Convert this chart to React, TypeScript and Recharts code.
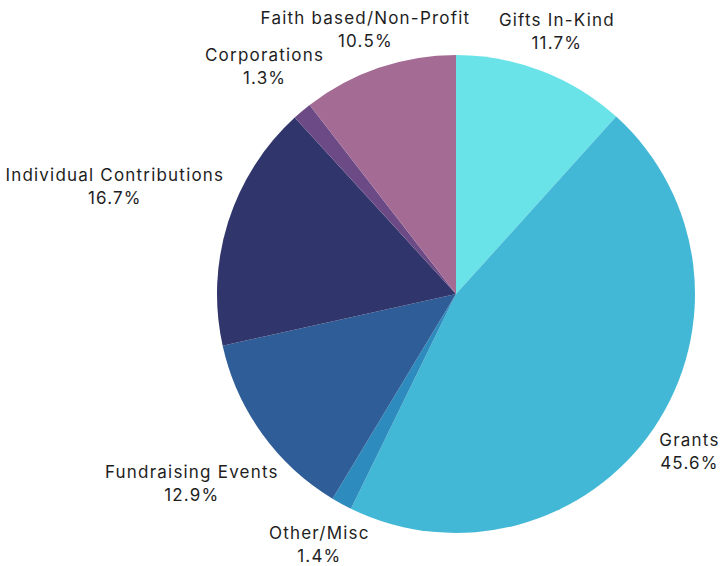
import React from 'react';
import { PieChart, Pie, Cell } from 'recharts';

const categories = ['Gifts In-Kind', 'Grants', 'Other/Misc', 'Fundraising Events', 'Individual Contributions', 'Corporations', 'Faith based/Non-Profit'];
const values = [11.7, 45.6, 1.4, 12.9, 16.7, 1.3, 10.5];
const colors = ['#6AE3E8', '#42B8D6', '#2E8BBD', '#2E5D97', '#30356B', '#6C4A86', '#A46C95'];

const data = categories.map((name, i) => ({ name, value: values[i] }));

const W = 721;
const H = 566;
const FONT_FAMILY = 'Inter';
const FONT_SIZE = 17;
const LETTER_SPACING = 1.2;
const LINE_H = 23;

let ctx: CanvasRenderingContext2D | null = null;
function measure(t: string): number {
  if (!ctx) {
    const c = document.createElement('canvas');
    ctx = c.getContext('2d');
  }
  const base = ctx ? (ctx.font = `${FONT_SIZE}px ${FONT_FAMILY}`, ctx.measureText(t).width) : t.length * 8.5;
  return base + LETTER_SPACING * (t.length - 1);
}

const RADIAN = Math.PI / 180;

const renderLabel = (props: any) => {
  const { cx, cy, midAngle, outerRadius, name, value } = props;
  const pct = `${Number(value).toFixed(1)}%`;
  const w = Math.max(measure(name), measure(pct));
  const h = LINE_H * 2;
  const pad = 46;
  const c = Math.cos(-midAngle * RADIAN);
  const s = Math.sin(-midAngle * RADIAN);
  const r0 = outerRadius - 32;
  const ex = Math.abs(c) > 1e-6 ? (w + 2 * pad) / (2 * Math.abs(c)) : Infinity;
  const ey = Math.abs(s) > 1e-6 ? (h + 2 * pad) / (2 * Math.abs(s)) : Infinity;
  let d = r0 + Math.min(ex, ey);
  // keep inside the chart
  if (c > 0 && cx + c * d + w / 2 > W - 2) d = (W - 2 - w / 2 - cx) / c;
  if (c < 0 && cx + c * d - w / 2 < 6) d = (6 + w / 2 - cx) / c;
  if (s > 0 && cy + s * d + LINE_H / 2 > H - 9) d = (H - 9 - LINE_H / 2 - cy) / s;
  const x = cx + c * d;
  const y = cy + s * d;
  return (
    <g>
      <text x={x} y={y - LINE_H / 2} textAnchor="middle" dominantBaseline="central" fontFamily={FONT_FAMILY} fontSize={FONT_SIZE} letterSpacing={LETTER_SPACING} fill="#1e1e1e">{name}</text>
      <text x={x} y={y + LINE_H / 2} textAnchor="middle" dominantBaseline="central" fontFamily={FONT_FAMILY} fontSize={FONT_SIZE} letterSpacing={LETTER_SPACING} fill="#1e1e1e">{pct}</text>
    </g>
  );
};

export default function App() {
  return (
    <div style={{ position: 'absolute', left: 0, top: 0, width: W, height: H, background: '#fff' }}>
      <PieChart width={W} height={H} margin={{ top: 0, right: 0, bottom: 0, left: 0 }}>
        <Pie
          data={data}
          dataKey="value"
          nameKey="name"
          cx={456}
          cy={294}
          outerRadius={239}
          startAngle={90}
          endAngle={-270}
          stroke="none"
          label={renderLabel}
          labelLine={false}
          isAnimationActive={false}
        >
          {data.map((d, i) => (
            <Cell key={d.name} fill={colors[i]} />
          ))}
        </Pie>
      </PieChart>
    </div>
  );
}
